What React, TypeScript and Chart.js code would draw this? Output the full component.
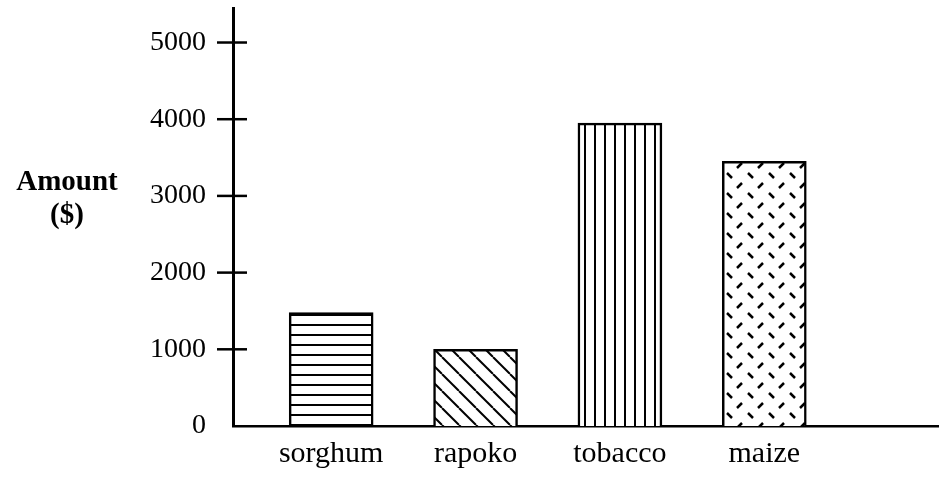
import React, { useEffect, useRef } from "react";
import { Chart, registerables } from "chart.js";

Chart.register(...registerables);

const categories = ["sorghum", "rapoko", "tobacco", "maize"];
const amounts = [1480, 1000, 3950, 3450];
const categoryPositions = [1, 2, 3, 4];
const yTickValues = [0, 1000, 2000, 3000, 4000, 5000];
const yAxisTitle = ["Amount", "($)"];

const FONT = "'Liberation Serif', 'Times New Roman', serif";

function makePattern(w: number, h: number, draw: (c: CanvasRenderingContext2D) => void) {
  const cv = document.createElement("canvas");
  cv.width = w;
  cv.height = h;
  const c = cv.getContext("2d")!;
  c.fillStyle = "#ffffff";
  c.fillRect(0, 0, w, h);
  c.strokeStyle = "#000000";
  c.lineCap = "butt";
  draw(c);
  const ctx = document.createElement("canvas").getContext("2d")!;
  return ctx.createPattern(cv, "repeat")!;
}

const crossTicks = {
  id: "crossTicks",
  afterDraw(chart: any) {
    const y = chart.scales.y;
    const x0 = chart.chartArea.left;
    const ctx = chart.ctx;
    ctx.save();
    ctx.strokeStyle = "#000";
    ctx.lineWidth = 2.5;
    yTickValues.forEach((v) => {
      if (v === 0) return;
      const py = y.getPixelForValue(v);
      ctx.beginPath();
      ctx.moveTo(x0 - 16, py);
      ctx.lineTo(x0 + 14, py);
      ctx.stroke();
    });
    ctx.restore();
  },
};

export default function App() {
  const ref = useRef<HTMLCanvasElement | null>(null);

  useEffect(() => {
    document.body.style.margin = "0";
    const horiz = makePattern(10, 10, (c) => {
      c.lineWidth = 2;
      c.beginPath();
      c.moveTo(0, 5);
      c.lineTo(10, 5);
      c.stroke();
    });
    const diag = makePattern(17, 17, (c) => {
      c.lineWidth = 2;
      [-17, 0, 17].forEach((k) => {
        c.beginPath();
        c.moveTo(k, 0);
        c.lineTo(k + 17, 17);
        c.stroke();
      });
    });
    const vert = makePattern(10, 10, (c) => {
      c.lineWidth = 2;
      c.beginPath();
      c.moveTo(5, 0);
      c.lineTo(5, 10);
      c.stroke();
    });
    const dashes = makePattern(21, 20, (c) => {
      c.lineWidth = 2.5;
      c.beginPath();
      c.moveTo(2, 8);
      c.lineTo(7, 3);
      c.stroke();
      c.beginPath();
      c.moveTo(13, 13);
      c.lineTo(18, 18);
      c.stroke();
    });

    const chart = new Chart(ref.current!, {
      type: "bar",
      data: {
        datasets: [
          {
            data: categoryPositions.map((p, i) => ({ x: p, y: amounts[i] })),
            backgroundColor: [horiz, diag, vert, dashes] as any,
            borderColor: "#000",
            borderWidth: 2.5,
            barThickness: 84,
          },
        ],
      },
      plugins: [crossTicks],
      options: {
        animation: false,
        responsive: false,
        devicePixelRatio: 1,
        layout: { padding: { top: 8, left: 0, right: 0, bottom: 0 } },
        plugins: {
          legend: { display: false },
          tooltip: { enabled: false },
        },
        scales: {
          x: {
            type: "linear",
            offset: false,
            min: 0.32,
            max: 5.21,
            grid: { display: false, drawTicks: false, offset: false },
            border: { display: true, color: "#000", width: 2.5 },
            afterBuildTicks: (s: any) => {
              s.ticks = categoryPositions.map((v) => ({ value: v }));
            },
            afterFit: (s: any) => {
              s.height = 51;
              s.paddingLeft = 0;
              s.paddingRight = 0;
            },
            ticks: {
              autoSkip: false,
              maxRotation: 0,
              padding: 10,
              color: "#000",
              font: { family: FONT, size: 30 },
              callback: (v: any) => categories[categoryPositions.indexOf(Number(v))] ?? "",
            },
          },
          y: {
            min: 0,
            max: 5450,
            grid: { display: false, drawTicks: false },
            border: { display: true, color: "#000", width: 3 },
            afterBuildTicks: (s: any) => {
              s.ticks = yTickValues.map((v) => ({ value: v }));
            },
            afterFit: (s: any) => {
              s.width = 233;
              s.paddingTop = 0;
              s.paddingBottom = 0;
            },
            ticks: {
              padding: 27,
              color: "#000",
              font: { family: FONT, size: 28 },
              callback: (v: any) => String(v),
            },
          },
        },
      },
    });
    return () => chart.destroy();
  }, []);

  return (
    <div style={{ position: "absolute", left: 0, top: 0, width: 939, height: 477, background: "#fff" }}>
      <canvas ref={ref} width={939} height={477} style={{ display: "block" }} />
      <div
        style={{
          position: "absolute",
          left: 6,
          top: 164,
          width: 122,
          textAlign: "center",
          fontFamily: FONT,
          fontWeight: "bold",
          fontSize: 29,
          lineHeight: "33px",
          color: "#000",
        }}
      >
        {yAxisTitle.map((t) => (
          <div key={t}>{t}</div>
        ))}
      </div>
    </div>
  );
}
